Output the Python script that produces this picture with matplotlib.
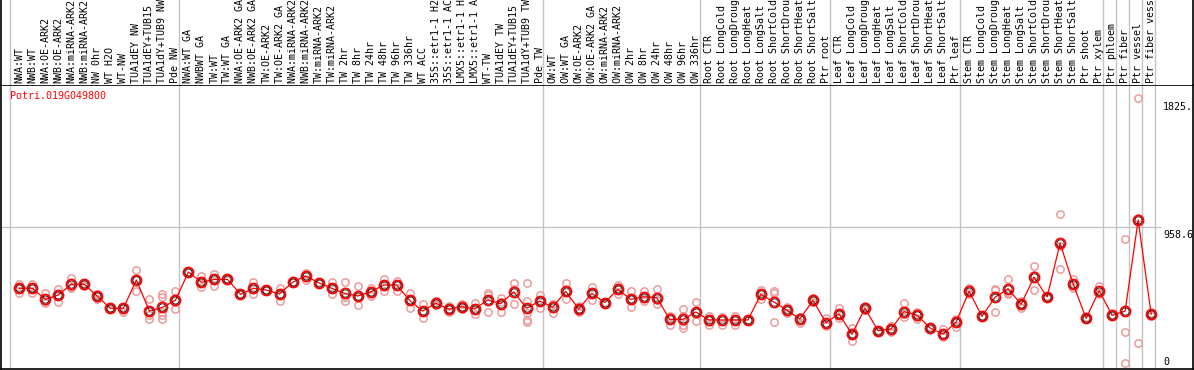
import matplotlib
matplotlib.use("Agg")
from matplotlib import pyplot as plt

# sample names, left to right
labels = [
    "NWA:WT", "NWB:WT", "NWA:OE-ARK2", "NWB:OE-ARK2", "NWA:miRNA-ARK2",
    "NWB:miRNA-ARK2", "NW 0hr", "WT H2O", "WT-NW", "TUA1dEY NW",
    "TUA1dEY+TUB15 NW", "TUA1dY+TUB9 NW", "Pde NW",
    "NWA:WT GA", "NWBWT GA", "TW:WT", "TW:WT GA", "NWA:OE-ARK2 GA",
    "NWB:OE-ARK2 GA", "TW:OE-ARK2", "TW:OE-ARK2 GA", "NWA:miRNA-ARK2 GA",
    "NWB:miRNA-ARK2 GA", "TW:miRNA-ARK2", "TW:miRNA-ARK2 GA", "TW 2hr",
    "TW 8hr", "TW 24hr", "TW 48hr", "TW 96hr", "TW 336hr", "WT ACC",
    "35S::etr1-1 H2O", "35S::etr1-1 ACC", "LMX5::etr1-1 H2O",
    "LMX5::etr1-1 ACC", "WT-TW", "TUA1dEY TW", "TUA1dEY+TUB15 TW",
    "TUA1dY+TUB9 TW", "Pde TW",
    "OW:WT", "OW:WT GA", "OW:OE-ARK2", "OW:OE-ARK2 GA", "OW:miRNA-ARK2",
    "OW:miRNA-ARK2 GA", "OW 2hr", "OW 8hr", "OW 24hr", "OW 48hr", "OW 96hr",
    "OW 336hr",
    "Root CTR", "Root LongCold", "Root LongDrought", "Root LongHeat",
    "Root LongSalt", "Root ShortCold", "Root ShortDrought", "Root ShortHeat",
    "Root ShortSalt", "Ptr root",
    "Leaf CTR", "Leaf LongCold", "Leaf LongDrought", "Leaf LongHeat",
    "Leaf LongSalt", "Leaf ShortCold", "Leaf ShortDrought", "Leaf ShortHeat",
    "Leaf ShortSalt", "Ptr leaf",
    "Stem CTR", "Stem LongCold", "Stem LongDrought", "Stem LongHeat",
    "Stem LongSalt", "Stem ShortCold", "Stem ShortDrought", "Stem ShortHeat",
    "Stem ShortSalt", "Ptr shoot", "Ptr xylem",
    "Ptr phloem", "Ptr fiber", "Ptr vessel", "Ptr fiber vessel",
]

# column indices where the grey group separators sit
group_edges = [0, 13, 41, 53, 63, 73, 84, 85, 86, 87, 88]

# mean expression per sample
means = [
    545, 545, 470, 500, 572, 572, 491, 410, 410, 601, 391, 416, 464,
    655, 585, 605, 605, 504, 545, 533, 506, 585, 628, 583, 545, 511,
    493, 520, 567, 567, 464, 391, 445, 405, 421, 405, 466, 441, 520,
    410, 459,
    418, 524, 405, 511, 448, 538, 470, 488, 481, 335, 335, 385,
    331, 331, 331, 331, 504, 452, 398, 337, 464, 313,
    373, 234, 410, 259, 270, 387, 364, 277, 236, 315,
    524, 356, 484, 542, 437, 621, 486, 849, 574, 342, 529,
    362, 391, 1006, 369,
]

# individual replicates per sample
reps = [
    [572, 545, 515], [574, 545, 511], [511, 457, 444], [538, 500, 454],
    [612, 556, 548], [579, 576, 560], [506, 496, 471], [410, 410, 405],
    [421, 410, 387], [666, 608, 529], [470, 365, 336],
    [506, 488, 365, 336, 388], [525, 464, 403],
    [655, 655, 652], [628, 585, 552], [643, 611, 562], [606, 605, 603],
    [505, 503, 504], [589, 540, 506], [533, 535, 531], [549, 509, 461],
    [585, 587, 584], [650, 633, 601], [583, 585, 580], [585, 544, 506],
    [587, 488, 459], [560, 487, 432], [545, 522, 493], [606, 567, 529],
    [596, 576, 529], [511, 466, 414], [439, 393, 342], [459, 445, 432],
    [423, 405, 387], [439, 420, 403], [448, 396, 371], [515, 500, 385],
    [481, 455, 387], [579, 542, 439], [579, 459, 376, 315, 330],
    [500, 463, 414],
    [439, 440, 376], [579, 520, 475], [425, 405, 385], [556, 512, 466],
    [448, 450, 445], [569, 538, 506], [525, 470, 417], [525, 478, 461],
    [542, 463, 439], [358, 350, 299], [407, 361, 297, 279], [450, 382, 322],
    [360, 335, 297], [353, 342, 297], [360, 335, 297], [331, 332, 330],
    [533, 510, 471], [525, 515, 317], [417, 402, 376], [353, 351, 309],
    [477, 464, 450], [342, 306, 290],
    [410, 368, 342], [275, 237, 191], [425, 410, 395], [259, 265, 252],
    [252, 288, 270], [444, 368, 349], [387, 371, 336], [282, 281, 268],
    [268, 227, 214], [336, 325, 286],
    [545, 520, 509], [356, 358, 353], [538, 531, 383], [606, 511, 509],
    [461, 440, 410], [693, 637, 533], [494, 487, 477], [1044, 673, 829],
    [610, 567, 545], [350, 342, 336], [562, 520, 504],
    [363, 365, 360], [876, 248, 39], [1827, 174, 1016], [376, 374, 358],
]

gene = "Potri.019G049800"
ymax = 1917.2
ytick_vals = [1825.9, 958.6, 0]
ytick_text = ["1825.", "958.6", "0"]

W, H = 1194, 370
mono = "DejaVu Sans Mono"
fs = 7.2
grey = "#c4c4c4"
pink = "#eb9c9c"

fig = plt.figure(figsize=(W / 100, H / 100), dpi=100)
xlo, xhi = -0.692, 90.93

# main plot box
ax = fig.add_axes([1 / W, 1 / H, 1192 / W, 284 / H])
ax.set_xlim(xlo, xhi)
ax.set_ylim(0, ymax)
ax.set_xticks([])
ax.set_yticks([])
for s in ax.spines.values():
    s.set_linewidth(1.2)
    s.set_color("black")

for k in group_edges:
    ax.axvline(k, color=grey, lw=1, zorder=1)
ax.hlines(958.6, xlo, 88.47, color=grey, lw=1, zorder=1)

xs = [i + 0.715 for i in range(len(means))]
rx, ry = [], []
for i, r in enumerate(reps):
    for v in r:
        rx.append(xs[i])
        ry.append(v)
ax.plot(rx, ry, ls="none", marker="o", ms=5.3, mfc="none", mec=pink,
        mew=1.1, zorder=2)
ax.plot(xs, means, color="red", lw=0.9, zorder=3)
ax.plot(xs, means, ls="none", marker="o", ms=7.2, mfc="none", mec="red",
        mew=1.3, zorder=4)
ax.plot(xs, means, ls="none", marker="o", ms=5.2, mfc="none", mec="black",
        mew=0.5, zorder=5)

ax.text(0, 0.961, gene, transform=ax.get_xaxis_transform(), color="red",
        family=mono, fontsize=fs, va="center", ha="left")

tx = (1163 - 10) / 13.01
for v, t in zip(ytick_vals, ytick_text):
    if v == 0:
        ax.annotate(t, (tx, v), xytext=(0, 2), textcoords="offset pixels",
                    family=mono, fontsize=fs, ha="left", va="bottom")
    else:
        ax.annotate(t, (tx, v), xytext=(0, -3), textcoords="offset pixels",
                    family=mono, fontsize=fs, ha="left", va="top")

# header with rotated sample names
hx = fig.add_axes([1 / W, (H - 85) / H, 1192 / W, 85 / H])
hx.set_xlim(xlo, xhi)
hx.set_ylim(0, 85)
hx.set_xticks([])
hx.set_yticks([])
hx.spines["top"].set_visible(False)
hx.spines["bottom"].set_visible(False)
for s in ["left", "right"]:
    hx.spines[s].set_linewidth(1.2)
for k in group_edges:
    hx.axvline(k, color=grey, lw=1)
for i, lab in enumerate(labels):
    hx.text(xs[i], 2, lab, rotation=90, family=mono, fontsize=fs,
            ha="center", va="bottom", clip_on=False)

fig.savefig("out.png", dpi=100)
plt.close(fig)
